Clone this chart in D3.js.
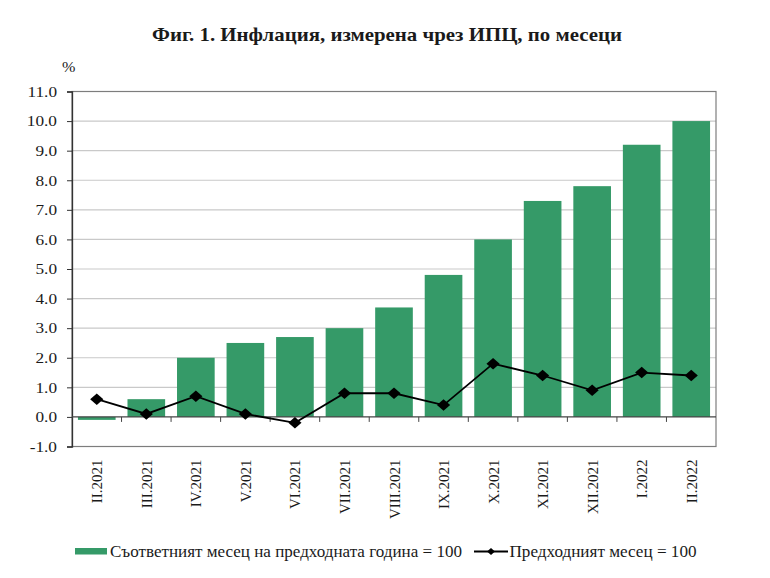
<!DOCTYPE html>
<html>
<head>
<meta charset="utf-8">
<script src="https://cdn.jsdelivr.net/npm/d3@7"></script>
<style>
  body { margin: 0; background: #fff; }
  svg text { font-family: "Liberation Serif", "Times New Roman", "DejaVu Serif", serif; fill: #1a1a1a; }
</style>
</head>
<body>
<svg id="chart" width="770" height="578"></svg>
<script>
// data
const months = ["II.2021", "III.2021", "IV.2021", "V.2021", "VI.2021", "VII.2021", "VIII.2021",
                "IX.2021", "X.2021", "XI.2021", "XII.2021", "I.2022", "II.2022"]
const yearOnYear = [-0.1, 0.6, 2.0, 2.5, 2.7, 3.0, 3.7, 4.8, 6.0, 7.3, 7.8, 9.2, 10.0]
const monthOnMonth = [0.6, 0.1, 0.7, 0.1, -0.2, 0.8, 0.8, 0.4, 1.8, 1.4, 0.9, 1.5, 1.4]
const yTicks = [-1, 0, 1, 2, 3, 4, 5, 6, 7, 8, 9, 10, 11]
const titleText = "Фиг. 1. Инфлация, измерена чрез ИПЦ, по месеци"
const legendBars = "Съответният месец на предходната година = 100"
const legendLine = "Предходният месец = 100"

const green = "#359a68"
const stretchX = 1.15   // the source picture is a little wider than tall

// widen horizontal text by a factor, keeping its anchor
function stretch(sel, factor) {
    sel.each(function() {
        const w = this.getComputedTextLength()
        d3.select(this).attr("textLength", w * factor).attr("lengthAdjust", "spacingAndGlyphs")
    })
}

const margin = { top: 91.5, right: 54, bottom: 131.5, left: 72 }
const width = 770, height = 578
const innerW = width - margin.left - margin.right
const innerH = height - margin.top - margin.bottom

const svg = d3.select("#chart")

svg.append("text")
    .attr("x", 387)
    .attr("y", 41)
    .attr("text-anchor", "middle")
    .style("font-size", "19.5px")
    .style("font-weight", "bold")
    .attr("textLength", 470)
    .attr("lengthAdjust", "spacingAndGlyphs")
    .text(titleText)

svg.append("text")
    .attr("x", 62)
    .attr("y", 72)
    .style("font-size", "14px")
    .text("%")
    .call(stretch, stretchX)

const g = svg.append("g").attr("transform", `translate(${margin.left},${margin.top})`)

const x = d3.scaleBand().domain(months).range([0, innerW]).paddingInner(0.24).paddingOuter(0.12)
const y = d3.scaleLinear().domain([-1, 11]).range([innerH, 0])

// gridlines
g.append("g")
    .selectAll("line")
    .data(yTicks.filter(d => d !== 0 && d !== -1 && d !== 11))
    .join("line")
    .attr("x1", 0).attr("x2", innerW)
    .attr("y1", d => y(d)).attr("y2", d => y(d))
    .attr("stroke", "#c9c9c9")
    .attr("stroke-width", 1.2)

// plot border
g.append("rect")
    .attr("x", 0).attr("y", 0)
    .attr("width", innerW).attr("height", innerH)
    .attr("fill", "none")
    .attr("stroke", "#7d7d7d")
    .attr("stroke-width", 1.2)

// bars
g.append("g")
    .selectAll("rect")
    .data(yearOnYear)
    .join("rect")
    .attr("x", (d, i) => x(months[i]))
    .attr("width", x.bandwidth())
    .attr("y", d => y(Math.max(0, d)))
    .attr("height", d => Math.abs(y(d) - y(0)))
    .attr("fill", green)

// y axis (plain hyphen for negatives, like the source)
const fmt = d => d.toFixed(1)
const yAxis = g.append("g")
    .call(d3.axisLeft(y).tickValues(yTicks).tickSize(5).tickPadding(10).tickFormat(fmt))
yAxis.attr("font-family", null)
yAxis.select(".domain").attr("stroke", "#333").attr("stroke-width", 1.3)
yAxis.selectAll(".tick line").attr("stroke", "#333")
yAxis.selectAll("text")
    .style("font-size", "15px")
    .attr("fill", "#1a1a1a")
    .call(stretch, stretchX)

// zero line with category ticks pointing down
const step = innerW / months.length
g.append("line")
    .attr("x1", 0).attr("x2", innerW)
    .attr("y1", y(0)).attr("y2", y(0))
    .attr("stroke", "#444")
    .attr("stroke-width", 1.3)
g.append("g")
    .selectAll("line")
    .data(d3.range(1, months.length))
    .join("line")
    .attr("x1", d => d * step).attr("x2", d => d * step)
    .attr("y1", y(0)).attr("y2", y(0) + 5)
    .attr("stroke", "#444")

// category labels
g.append("g")
    .selectAll("text")
    .data(months)
    .join("text")
    .attr("transform", d => `translate(${x(d) + x.bandwidth() / 2 + 5.5},${innerH + 13}) rotate(-90)`)
    .attr("text-anchor", "end")
    .style("font-size", "15px")
    .text(d => d)

// month-on-month line
const line = d3.line()
    .x((d, i) => x(months[i]) + x.bandwidth() / 2)
    .y(d => y(d))
g.append("path")
    .datum(monthOnMonth)
    .attr("d", line)
    .attr("fill", "none")
    .attr("stroke", "#000")
    .attr("stroke-width", 1.8)

const diamond = d3.symbol().type(d3.symbolSquare).size(66)
g.append("g")
    .selectAll("path")
    .data(monthOnMonth)
    .join("path")
    .attr("transform", (d, i) => `translate(${x(months[i]) + x.bandwidth() / 2},${y(d)}) scale(${stretchX},1) rotate(45)`)
    .attr("d", diamond)
    .attr("fill", "#000")

// legend
const legend = svg.append("g")
legend.append("rect")
    .attr("x", 75).attr("y", 548)
    .attr("width", 32).attr("height", 6.5)
    .attr("fill", green)
legend.append("text")
    .attr("x", 110).attr("y", 557)
    .style("font-size", "16.5px")
    .attr("textLength", 352)
    .attr("lengthAdjust", "spacingAndGlyphs")
    .text(legendBars)
legend.append("line")
    .attr("x1", 474).attr("x2", 508)
    .attr("y1", 551.5).attr("y2", 551.5)
    .attr("stroke", "#000").attr("stroke-width", 1.8)
legend.append("path")
    .attr("transform", `translate(491,551.5) scale(${stretchX},1) rotate(45)`)
    .attr("d", d3.symbol().type(d3.symbolSquare).size(24))
    .attr("fill", "#000")
legend.append("text")
    .attr("x", 509.5).attr("y", 557)
    .style("font-size", "16.5px")
    .attr("textLength", 187)
    .attr("lengthAdjust", "spacingAndGlyphs")
    .text(legendLine)
</script>
</body>
</html>
